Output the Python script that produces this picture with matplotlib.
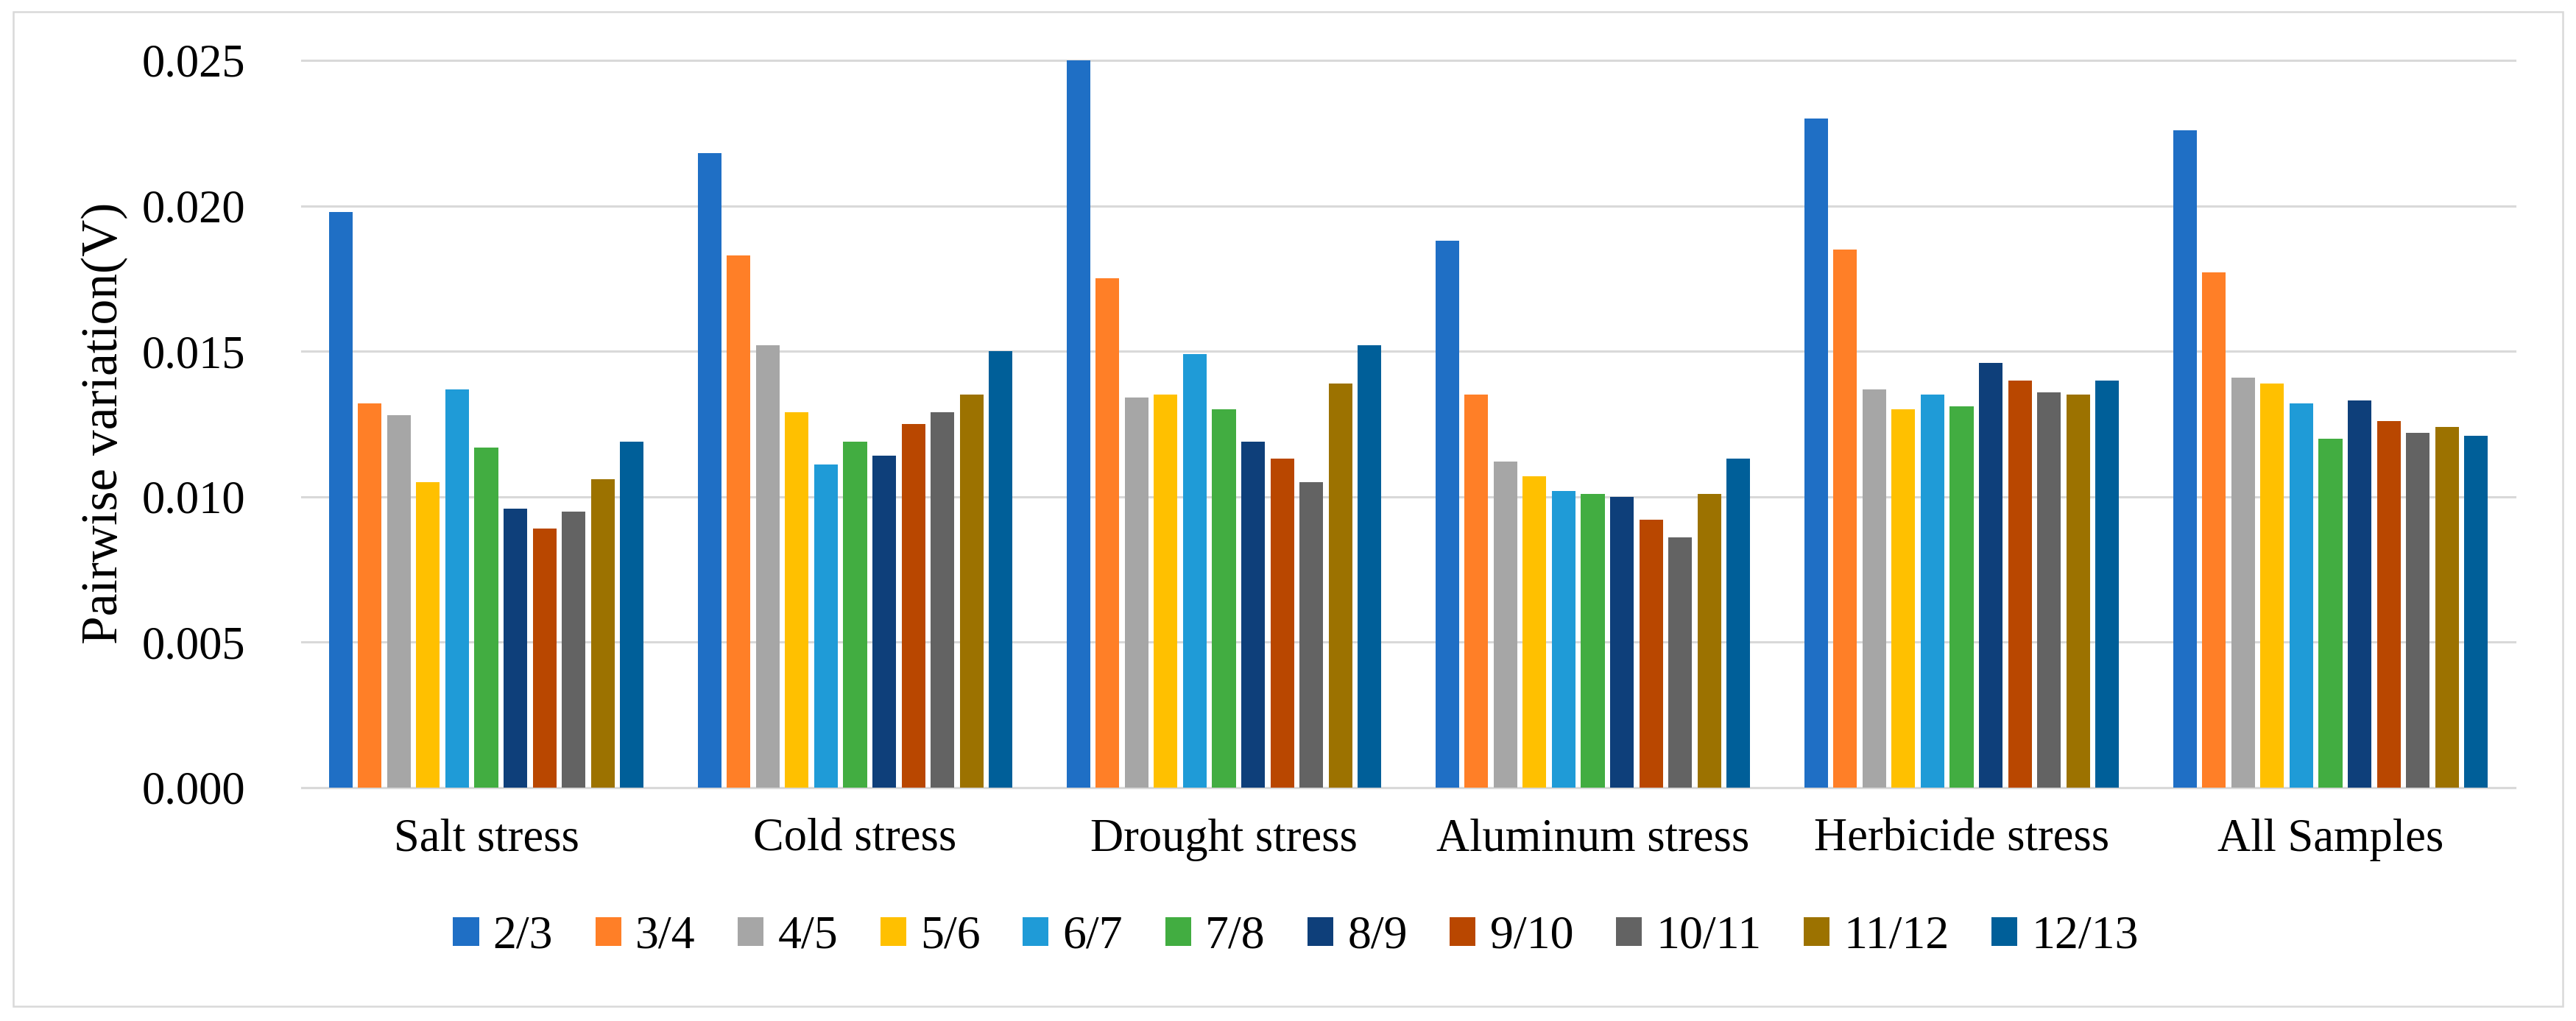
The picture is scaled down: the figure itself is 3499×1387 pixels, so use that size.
import numpy as np
import matplotlib
matplotlib.use("Agg")
import matplotlib.pyplot as plt
from matplotlib.patches import Rectangle

# ---- data ----
categories = ["Salt stress", "Cold stress", "Drought stress",
              "Aluminum stress", "Herbicide stress", "All Samples"]
series_labels = ["2/3", "3/4", "4/5", "5/6", "6/7", "7/8",
                 "8/9", "9/10", "10/11", "11/12", "12/13"]

salt_stress      = [0.0198, 0.0132, 0.0128, 0.0105, 0.0137, 0.0117, 0.0096, 0.0089, 0.0095, 0.0106, 0.0119]
cold_stress      = [0.0218, 0.0183, 0.0152, 0.0129, 0.0111, 0.0119, 0.0114, 0.0125, 0.0129, 0.0135, 0.0150]
drought_stress   = [0.0250, 0.0175, 0.0134, 0.0135, 0.0149, 0.0130, 0.0119, 0.0113, 0.0105, 0.0139, 0.0152]
aluminum_stress  = [0.0188, 0.0135, 0.0112, 0.0107, 0.0102, 0.0101, 0.0100, 0.0092, 0.0086, 0.0101, 0.0113]
herbicide_stress = [0.0230, 0.0185, 0.0137, 0.0130, 0.0135, 0.0131, 0.0146, 0.0140, 0.0136, 0.0135, 0.0140]
all_samples      = [0.0226, 0.0177, 0.0141, 0.0139, 0.0132, 0.0120, 0.0133, 0.0126, 0.0122, 0.0124, 0.0121]

yticks = [0.000, 0.005, 0.010, 0.015, 0.020, 0.025]

colors = ["#1F6FC5", "#FF7F27", "#A6A6A6", "#FFC000", "#1F9BD7", "#42AD41",
          "#0E3F7A", "#B94700", "#636363", "#9C7200", "#005F99"]

values = np.array([salt_stress, cold_stress, drought_stress,
                   aluminum_stress, herbicide_stress, all_samples])  # (6, 11)

# ---- figure ----
plt.rcParams["font.family"] = ["Liberation Serif", "DejaVu Serif"]
W, H = 3499, 1387
fig = plt.figure(figsize=(W / 100, H / 100), dpi=100)
fig.patch.set_facecolor("white")

# outer chart border
fig.patches.append(Rectangle((18 / W, 1 - 1367 / H), (3481 - 18) / W, (1367 - 16) / H,
                             transform=fig.transFigure, fill=False,
                             edgecolor="#d9d9d9", linewidth=1.8))

ax = fig.add_axes([410 / W, 1 - 1070 / H, (3416 - 410) / W, (1070 - 82) / H])

x = np.arange(len(categories))
n = len(series_labels)
pitch = 0.079
bw = 0.064
for j, lab in enumerate(series_labels):
    ax.bar(x + (j - (n - 1) / 2) * pitch, values[:, j], width=bw,
           color=colors[j], label=lab, zorder=3, linewidth=0)

ax.set_xlim(-0.5, len(categories) - 0.5)
ax.set_ylim(0, 0.025)
ax.set_yticks(yticks)
ax.set_yticklabels([f"{v:.3f}" for v in yticks])
ax.set_xticks(x)
ax.set_xticklabels(categories)
ax.tick_params(axis="both", length=0, labelsize=45, colors="black")
ax.tick_params(axis="y", pad=55)
ax.tick_params(axis="x", pad=30)

ax.grid(axis="y", color="#d9d9d9", linewidth=2.2, zorder=0)
for gl in ax.yaxis.get_gridlines():
    gl.set_clip_on(False)
ax.set_axisbelow(True)
for s in ["top", "right", "left"]:
    ax.spines[s].set_visible(False)
ax.spines["bottom"].set_color("#d9d9d9")
ax.spines["bottom"].set_linewidth(2.2)

fig.text(142 / W, 1 - 575 / H, "Pairwise variation(V)", rotation=90,
         ha="center", va="center", fontsize=50)

fig.legend(loc="center", bbox_to_anchor=(1760 / W, 1 - 1273 / H), ncol=n,
           frameon=False, fontsize=46, handlelength=0.55, handleheight=0.55,
           handletextpad=0.3, columnspacing=0.9, borderaxespad=0)

fig.savefig("out.png", dpi=100, facecolor="white")
